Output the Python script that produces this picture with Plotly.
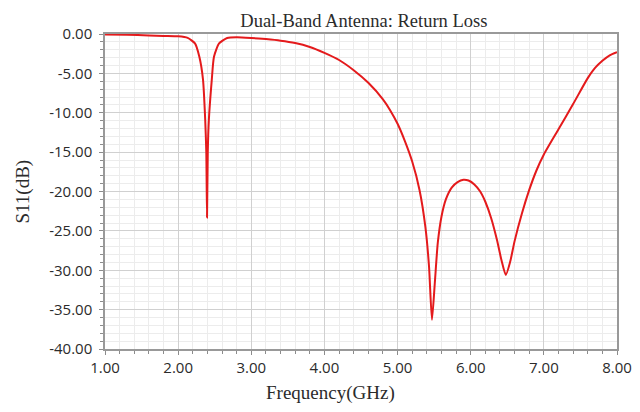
import plotly.graph_objects as go

title_text = "Dual-Band Antenna: Return Loss"
x_title = "Frequency(GHz)"
y_title = "S11(dB)"

freq_ghz = [1.0, 1.3, 1.6, 1.8, 2.0, 2.13, 2.23, 2.29, 2.34, 2.37, 2.385, 2.395,
            2.405, 2.42, 2.46, 2.49, 2.56, 2.67, 2.8, 3.0, 3.2, 3.4, 3.6, 3.8,
            4.0, 4.2, 4.4, 4.6, 4.8, 4.9, 5.0, 5.1, 5.2, 5.3, 5.38, 5.43, 5.47,
            5.51, 5.55, 5.6, 5.66, 5.74, 5.82, 5.9, 5.97, 6.05, 6.13, 6.2, 6.28,
            6.36, 6.42, 6.48, 6.54, 6.6, 6.7, 6.8, 6.9, 7.0, 7.2, 7.4, 7.6, 7.7,
            7.8, 7.9, 8.0]
s11_db = [-0.05, -0.1, -0.18, -0.25, -0.3, -0.5, -1.2, -2.9, -5.8, -10.9, -15.0, -23.3,
          -15.0, -10.9, -5.8, -2.9, -1.2, -0.5, -0.4, -0.5, -0.65, -0.85, -1.15, -1.65,
          -2.4, -3.3, -4.6, -6.2, -8.3, -9.7, -11.4, -13.6, -16.2, -19.8, -24.5, -29.5, -36.3,
          -31.5, -26.5, -23.2, -21.0, -19.5, -18.8, -18.5, -18.6, -19.1, -20.0, -21.3, -23.4,
          -26.2, -28.7, -30.6, -28.9, -26.3, -22.8, -19.8, -17.3, -15.3, -12.1, -8.9, -5.6, -4.3,
          -3.4, -2.7, -2.3]

x_tick_vals = [1, 2, 3, 4, 5, 6, 7, 8]
x_tick_text = ["1.00", "2.00", "3.00", "4.00", "5.00", "6.00", "7.00", "8.00"]
y_tick_vals = [0, -5, -10, -15, -20, -25, -30, -35, -40]
y_tick_text = ["0.00", "-5.00", "-10.00", "-15.00", "-20.00", "-25.00", "-30.00",
               "-35.00", "-40.00"]

fig = go.Figure()
fig.add_trace(go.Scatter(
    x=freq_ghz, y=s11_db, mode="lines",
    line=dict(color="#e41a1c", width=2, shape="spline", smoothing=0.6),
    showlegend=False, hoverinfo="x+y",
))

axis_common = dict(
    showline=True, linecolor="#999999", linewidth=1.5, mirror=True,
    showgrid=True, gridcolor="#d0d0d0", gridwidth=1,
    zeroline=False, automargin=False,
    ticks="outside", ticklen=4, tickcolor="#8c8c8c",
    tickfont=dict(family="Open Sans", size=15, color="#2b2b2b"),
)

fig.update_xaxes(
    range=[1, 8], tickvals=x_tick_vals, ticktext=x_tick_text,
    minor=dict(dtick=0.2, showgrid=True, gridcolor="#ececec", ticks="outside",
               ticklen=3, tickcolor="#8c8c8c"),
    **axis_common,
)
fig.update_yaxes(
    range=[-40, 0], tickvals=y_tick_vals, ticktext=y_tick_text,
    minor=dict(dtick=1, showgrid=True, gridcolor="#ececec", ticks="outside",
               ticklen=3, tickcolor="#8c8c8c"),
    ticklabelstandoff=4,
    **axis_common,
)

title_font = dict(family="Liberation Serif", size=19, color="#2b2b2b")
fig.add_annotation(text=x_title, xref="paper", yref="paper", x=0.441, y=-0.14,
                   xanchor="center", yanchor="middle", showarrow=False, font=title_font)
fig.add_annotation(text=y_title, xref="paper", yref="paper", x=-0.162, y=0.5,
                   xanchor="center", yanchor="middle", showarrow=False, textangle=-90,
                   font=title_font)

fig.update_layout(
    width=640, height=412,
    margin=dict(l=97, r=31, t=26, b=71),
    paper_bgcolor="white", plot_bgcolor="white",
    title=dict(text=title_text, x=0.556, xanchor="center", y=0.986, yanchor="top",
               font=dict(family="Liberation Serif", size=18.5, color="#2b2b2b")),
)

fig.write_html("out.html")
